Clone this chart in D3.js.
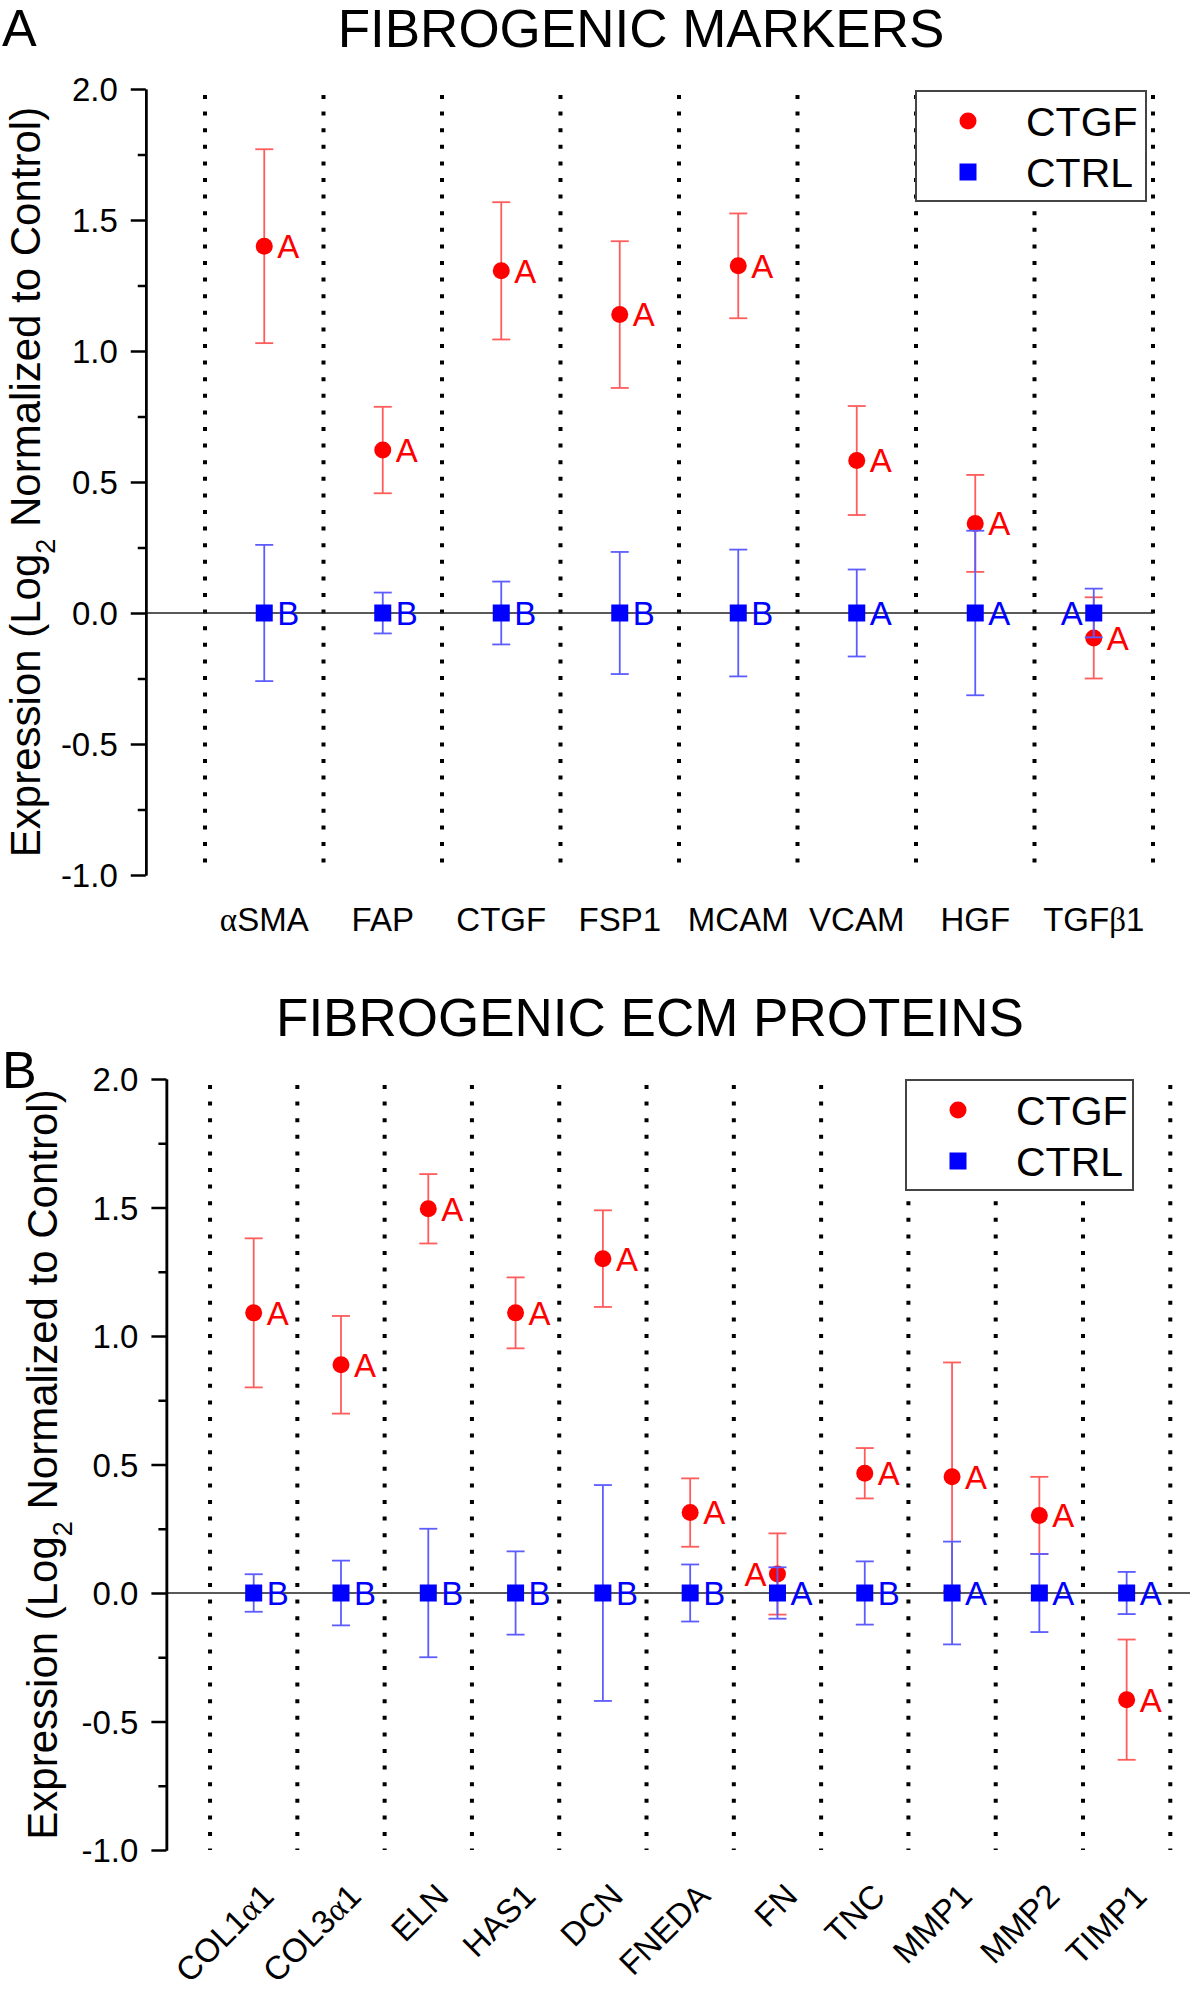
<!DOCTYPE html>
<html lang="en">
  <head>
    <meta charset="UTF-8" />
    <title>Fibrogenic markers and ECM proteins</title>
    <script src="https://d3js.org/d3.v7.min.js"></script>
    <style>
      body {
        margin: 0;
        background: #fff;
      }
      svg text {
        font-family: "Liberation Sans", Arial, sans-serif;
      }
      .greek {
        font-family: "Liberation Serif", "Times New Roman", serif;
      }
      .axis path,
      .axis line {
        stroke: #000;
        stroke-width: 2.5px;
      }
      .axis text {
        font-size: 33px;
        fill: #000;
      }
    </style>
  </head>

  <body>
    <svg id="chart" width="1190" height="1995"></svg>
    <script>
      // panel A: fibrogenic markers
      const markerGenes = ["αSMA", "FAP", "CTGF", "FSP1", "MCAM", "VCAM", "HGF", "TGFβ1"];
      const markerCtgf = [1.4, 0.622, 1.306, 1.139, 1.325, 0.582, 0.342, -0.095];
      const markerCtgfErr = [0.37, 0.165, 0.262, 0.28, 0.2, 0.208, 0.185, 0.155];
      const markerCtrl = [0, 0, 0, 0, 0, 0, 0, 0];
      const markerCtrlErr = [0.26, 0.078, 0.12, 0.233, 0.242, 0.166, 0.314, 0.093];
      const markerCtgfGroup = ["A", "A", "A", "A", "A", "A", "A", "A"];
      const markerCtrlGroup = ["B", "B", "B", "B", "B", "A", "A", "A"];

      // panel B: fibrogenic ECM proteins
      const ecmGenes = ["COL1α1", "COL3α1", "ELN", "HAS1", "DCN", "FNEDA", "FN", "TNC", "MMP1", "MMP2", "TIMP1"];
      const ecmCtgf = [1.09, 0.888, 1.495, 1.09, 1.301, 0.313, 0.074, 0.466, 0.452, 0.302, -0.415];
      const ecmCtgfErr = [0.29, 0.19, 0.135, 0.138, 0.188, 0.133, 0.158, 0.098, 0.445, 0.15, 0.234];
      const ecmCtrl = [0, 0, 0, 0, 0, 0, 0, 0, 0, 0, 0];
      const ecmCtrlErr = [0.073, 0.126, 0.25, 0.162, 0.42, 0.111, 0.1, 0.123, 0.2, 0.152, 0.082];
      const ecmCtgfGroup = ["A", "A", "A", "A", "A", "A", "A", "A", "A", "A", "A"];
      const ecmCtrlGroup = ["B", "B", "B", "B", "B", "B", "A", "B", "A", "A", "A"];

      const yTicks = [-1.0, -0.5, 0.0, 0.5, 1.0, 1.5, 2.0];
      const yMinorTicks = [-0.75, -0.25, 0.25, 0.75, 1.25, 1.75];
      const seriesNames = ["CTGF", "CTRL"];

      const svg = d3.select("#chart");
      const width = +svg.attr("width");

      const red = "#ff0000",
        blue = "#0000ff",
        redBar = "#ff5c5c",
        blueBar = "#5c5cff";

      // plain hyphen for negatives, like the original
      const tickFmt = (d) => d3.format(".1f")(d).replace("−", "-");

      // write a label, setting greek letters in a serif face
      function richText(sel, str) {
        const parts = str.split(/([αβ])/).filter((p) => p.length);
        parts.forEach((p) => {
          sel
            .append("tspan")
            .attr("class", /[αβ]/.test(p) ? "greek" : null)
            .text(p);
        });
      }

      function drawPanel(p) {
        const g = svg.append("g");
        const x = d3.scaleLinear().domain([0, p.genes.length + 0.5]).range(p.xRange);
        const y = d3.scaleLinear().domain([-1, 2]).range(p.yRange);
        const n = p.genes.length;

        // panel letter and title
        g.append("text")
          .attr("x", 2)
          .attr("y", p.letterY)
          .style("font-size", "52px")
          .text(p.letter);
        g.append("text")
          .attr("x", p.titleX)
          .attr("y", p.titleY)
          .attr("text-anchor", "middle")
          .style("font-size", "53px")
          .text(p.title);

        // dotted separators between genes
        const seps = d3.range(n + 1).map((i) => i + 0.5);
        g.selectAll(".sep")
          .data(seps)
          .enter()
          .append("line")
          .attr("x1", (d) => x(d))
          .attr("x2", (d) => x(d))
          .attr("y1", y(2) + 6)
          .attr("y2", y(-1))
          .attr("stroke", "#000")
          .attr("stroke-width", 4)
          .attr("stroke-dasharray", "4,12.6");

        // zero reference line
        g.append("line")
          .attr("x1", x(0))
          .attr("x2", p.zeroEnd === null ? x(n + 0.5) : p.zeroEnd)
          .attr("y1", y(0))
          .attr("y2", y(0))
          .attr("stroke", "#222")
          .attr("stroke-width", 1.4);

        // y axis with minor ticks
        g.append("g")
          .attr("class", "axis")
          .attr("transform", `translate(${x(0)},0)`)
          .call(
            d3.axisLeft(y).tickValues(yMinorTicks).tickSize(8).tickSizeOuter(0).tickFormat("")
          );
        g.append("g")
          .attr("class", "axis")
          .attr("transform", `translate(${x(0)},0)`)
          .call(
            d3
              .axisLeft(y)
              .tickValues(yTicks)
              .tickSize(15)
              .tickSizeOuter(0)
              .tickPadding(13)
              .tickFormat(tickFmt)
          )
          .selectAll("text")
          .attr("dy", "0.36em");

        // y axis title
        const yt = g
          .append("text")
          .attr("transform", `translate(${p.yTitleX},${(p.yRange[0] + p.yRange[1]) / 2}) rotate(-90)`)
          .attr("text-anchor", "middle")
          .style("font-size", "42px");
        yt.append("tspan").text("Expression (Log");
        yt.append("tspan").attr("baseline-shift", "sub").style("font-size", "27px").text("2");
        yt.append("tspan").text(" Normalized to Control)");

        // gene labels
        p.genes.forEach((gene, i) => {
          let t;
          if (p.rotate) {
            t = g
              .append("text")
              .attr("transform", `translate(${x(i + 1) + 22},${p.labelY}) rotate(-45)`)
              .attr("text-anchor", "end")
              .style("font-size", "33px");
          } else {
            t = g
              .append("text")
              .attr("x", x(i + 1))
              .attr("y", p.labelY)
              .attr("text-anchor", "middle")
              .style("font-size", "33px");
          }
          richText(t, gene);
        });

        // series: CTGF first, CTRL drawn on top
        const series = [
          { vals: p.ctgf, err: p.ctgfErr, grp: p.ctgfGroup, col: red, bar: redBar, shape: "circle", left: p.ctgfLeft },
          { vals: p.ctrl, err: p.ctrlErr, grp: p.ctrlGroup, col: blue, bar: blueBar, shape: "square", left: p.ctrlLeft },
        ];
        series.forEach((s) => {
          const sg = g.append("g");
          s.vals.forEach((v, i) => {
            const cx = x(i + 1);
            const e = s.err[i];
            sg.append("line")
              .attr("x1", cx)
              .attr("x2", cx)
              .attr("y1", y(v + e))
              .attr("y2", y(v - e))
              .attr("stroke", s.bar)
              .attr("stroke-width", 1.8);
            [v + e, v - e].forEach((c) => {
              sg.append("line")
                .attr("x1", cx - 9)
                .attr("x2", cx + 9)
                .attr("y1", y(c))
                .attr("y2", y(c))
                .attr("stroke", s.bar)
                .attr("stroke-width", 1.8);
            });
            if (s.shape === "circle") {
              sg.append("circle").attr("cx", cx).attr("cy", y(v)).attr("r", 8.5).attr("fill", s.col);
            } else {
              sg.append("rect")
                .attr("x", cx - 8.5)
                .attr("y", y(v) - 8.5)
                .attr("width", 17)
                .attr("height", 17)
                .attr("fill", s.col);
            }
            const onLeft = s.left.includes(p.genes[i]);
            sg.append("text")
              .attr("x", onLeft ? cx - 11 : cx + 13)
              .attr("y", y(v))
              .attr("dy", "0.36em")
              .attr("text-anchor", onLeft ? "end" : "start")
              .attr("fill", s.col)
              .style("font-size", "33px")
              .text(s.grp[i]);
          });
        });

        // legend
        const lg = g.append("g").attr("transform", `translate(${p.legend[0]},${p.legend[1]})`);
        lg.append("rect")
          .attr("width", p.legend[2])
          .attr("height", 110)
          .attr("fill", "#fff")
          .attr("stroke", "#444")
          .attr("stroke-width", 2);
        seriesNames.forEach((name, i) => {
          const ly = 30 + i * 51;
          if (i === 0) {
            lg.append("circle").attr("cx", 52).attr("cy", ly).attr("r", 8.5).attr("fill", red);
          } else {
            lg.append("rect").attr("x", 43.5).attr("y", ly - 8.5).attr("width", 17).attr("height", 17).attr("fill", blue);
          }
          lg.append("text")
            .attr("x", 110)
            .attr("y", ly)
            .attr("dy", "0.36em")
            .style("font-size", "41px")
            .text(name);
        });
      }

      drawPanel({
        letter: "A",
        letterY: 46,
        title: "FIBROGENIC MARKERS",
        titleX: 641,
        titleY: 47,
        genes: markerGenes,
        ctgf: markerCtgf,
        ctgfErr: markerCtgfErr,
        ctrl: markerCtrl,
        ctrlErr: markerCtrlErr,
        ctgfGroup: markerCtgfGroup,
        ctrlGroup: markerCtrlGroup,
        ctgfLeft: [],
        ctrlLeft: ["TGFβ1"],
        xRange: [145.75, 1153],
        yRange: [875, 89],
        yTitleX: 40,
        labelY: 931,
        rotate: false,
        zeroEnd: null,
        legend: [916, 91, 230],
      });

      drawPanel({
        letter: "B",
        letterY: 1088,
        title: "FIBROGENIC ECM PROTEINS",
        titleX: 650,
        titleY: 1036,
        genes: ecmGenes,
        ctgf: ecmCtgf,
        ctgfErr: ecmCtgfErr,
        ctrl: ecmCtrl,
        ctrlErr: ecmCtrlErr,
        ctgfGroup: ecmCtgfGroup,
        ctrlGroup: ecmCtrlGroup,
        ctgfLeft: ["FN"],
        ctrlLeft: [],
        xRange: [166.4, 1170.3],
        yRange: [1850, 1079],
        yTitleX: 57,
        labelY: 1898,
        rotate: true,
        zeroEnd: width,
        legend: [906, 1080, 227],
      });
    </script>
  </body>
</html>
